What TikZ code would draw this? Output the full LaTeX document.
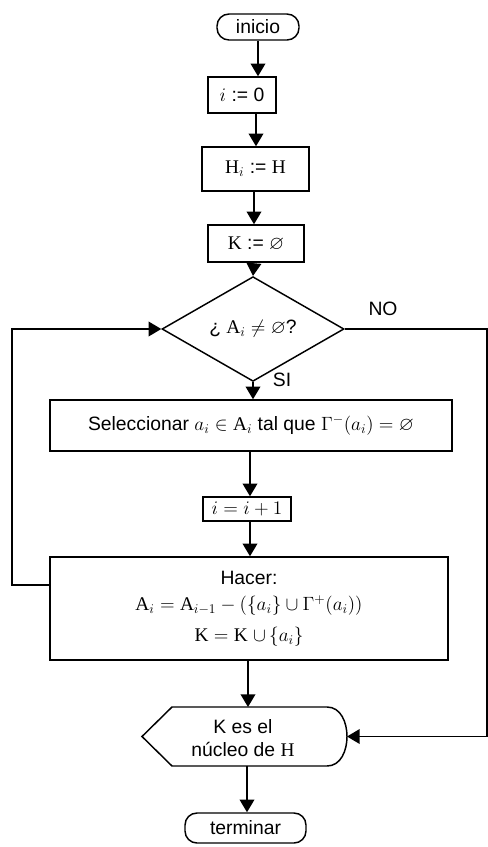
\documentclass[tikz,border=0pt]{standalone}
\usepackage{amsmath,amssymb}
\usepackage{fontspec}
\setmainfont{Liberation Sans}
\newfontfamily\serifrm{Liberation Serif}
\usetikzlibrary{arrows.meta,shapes.geometric,backgrounds}
\newcommand{\srm}[1]{\text{\serifrm #1}}
\tikzset{
  stepbox/.style={rectangle,draw,line width=1.1pt,align=center,
    inner sep=2pt,font=\fontsize{14.5}{17}\selectfont},
  endbox/.style={stepbox,rounded corners=9pt},
  flow/.style={-{Triangle[length=9.5pt,width=11pt]},line width=1.1pt}}

\begin{document}
\begin{tikzpicture}[x=0.75pt,y=-0.75pt,
  testbox/.style={diamond,draw,line width=1.1pt,inner sep=0pt,
    minimum width=136.5pt,minimum height=51.75pt,
    font=\fontsize{14.5}{17}\selectfont},
  plain/.style={inner sep=1pt,align=center,font=\fontsize{14.5}{17}\selectfont}]
  \useasboundingbox (0,0) rectangle (488,847);

  \node[endbox,minimum width=61.5pt,minimum height=19.5pt] (ini) at (258,27) {inicio};
  \node[stepbox,minimum width=51pt,minimum height=27pt] (izero) at (242,95) {$i$ := 0};
  \node[stepbox,minimum width=80pt,minimum height=33pt] (hset) at (255.5,169)
    {\srm{H}$_{i}$ := \srm{H}};
  \node[stepbox,minimum width=72pt,minimum height=27.75pt] (kset) at (256,243.5)
    {\srm{K} := $\varnothing$};
  \node[testbox] (test) at (253,329) {¿ \srm{A}$_{i}\neq\varnothing$?};
  \node[plain] (no) at (383,309) {NO};
  \node[plain] (si) at (282,380) {SI};
  \node[stepbox,minimum width=301.5pt,minimum height=38.25pt] (sel) at (251,425.5)
    {Seleccionar $a_i\in$ \srm{A}$_{i}$ tal que $\Gamma^{-}(a_i)=\varnothing$};
  \node[stepbox,minimum width=66pt,minimum height=18pt] (inc) at (247,509) {$i=i+1$};
  \node[stepbox,minimum width=298.5pt,minimum height=77.25pt] (hacer) at (249,608.5)
    {Hacer:\\[3pt]
     \srm{A}$_{i}=$ \srm{A}$_{i-1}-(\{a_i\}\cup\Gamma^{+}(a_i))$\\[6pt]
     \srm{K} $=$ \srm{K} $\cup\,\{a_i\}$};
  \node[plain] (out) at (243,738) {K es el\\núcleo de \srm{H}};
  \node[endbox,minimum width=90.75pt,minimum height=22.5pt] (fin) at (245.5,828) {terminar};

  % display shape of the result
  \coordinate (dL) at (142,736.5);
  \coordinate (dTL) at (172,707);
  \coordinate (dTR) at (327,707);
  \coordinate (dR) at (347,736.5);
  \coordinate (dBR) at (327,766);
  \coordinate (dBL) at (172,766);
  \draw[line width=1.1pt] (dL) -- (dTL) -- (dTR) to[out=0,in=90] (dR)
    to[out=-90,in=0] (dBR) -- (dBL) -- cycle;

  % guides for the vertical arrows
  \coordinate (g1) at (256,0);
  \coordinate (g2) at (254,0);
  \coordinate (g3) at (250,0);
  \coordinate (g4) at (248,0);
  \coordinate (g5) at (247,0);
  \coordinate (lb) at (12,585);
  \coordinate (lt) at (12,329);
  \coordinate (rt) at (487,329);
  \coordinate (rb) at (487,736.5);

  \begin{scope}[on background layer]
  \draw[flow] (ini.south) -- (ini.south |- izero.north);
  \draw[flow] (izero.south -| g1) -- (hset.north -| g1);
  \draw[flow] (hset.south -| g2) -- (kset.north -| g2);
  \draw[flow] (kset.south -| g2) -- (test.north);
  \draw[flow] (test.south) -- (test.south |- sel.north);
  \draw[flow] (sel.south -| g3) -- (inc.north -| g3);
  \draw[flow] (inc.south -| g3) -- (hacer.north -| g3);
  \draw[flow] (hacer.south -| g4) -- (dTL -| g4);
  \draw[flow] (dBL -| g5) -- (fin.north -| g5);
  \draw[flow] (hacer.west |- lb) -- (lb) -- (lt) -- (test.west);
  \draw[flow] (test.east) -- (rt) -- (rb) -- (dR);
  \end{scope}
\end{tikzpicture}
\end{document}
